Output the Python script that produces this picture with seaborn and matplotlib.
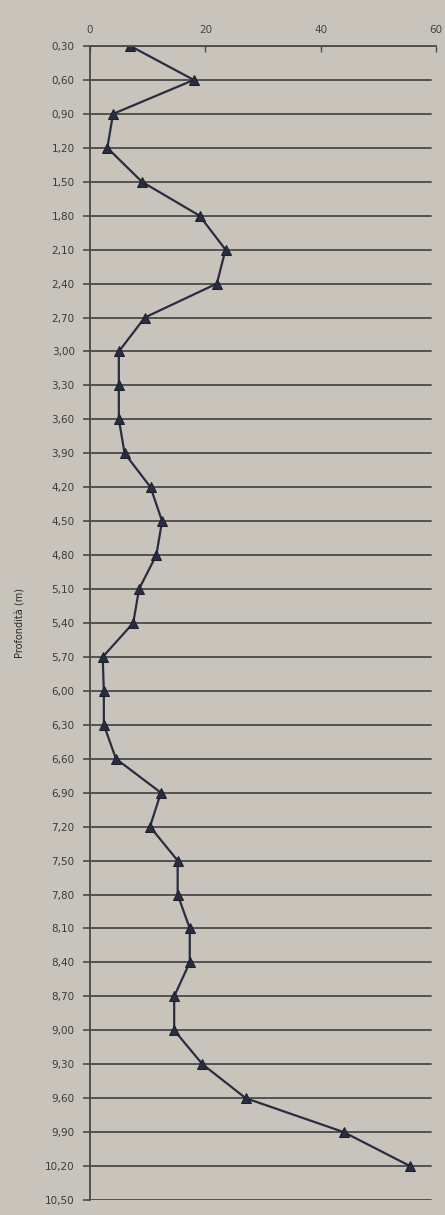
import numpy as np
import pandas as pd
import matplotlib
matplotlib.use("Agg")
import matplotlib.pyplot as plt
import seaborn as sns

# profondità (m) e valori
depths = [0.30, 0.60, 0.90, 1.20, 1.50, 1.80, 2.10, 2.40, 2.70, 3.00,
          3.30, 3.60, 3.90, 4.20, 4.50, 4.80, 5.10, 5.40, 5.70, 6.00,
          6.30, 6.60, 6.90, 7.20, 7.50, 7.80, 8.10, 8.40, 8.70, 9.00,
          9.30, 9.60, 9.90, 10.20]
values = [7.0, 18.0, 4.0, 3.0, 9.0, 19.0, 23.5, 22.0, 9.5, 5.0,
          5.0, 5.0, 6.0, 10.5, 12.5, 11.5, 8.5, 7.5, 2.2, 2.4,
          2.4, 4.5, 12.3, 10.4, 15.2, 15.2, 17.3, 17.3, 14.6, 14.6,
          19.5, 27.0, 44.0, 55.5]
tick_depths = [round(0.3 * i, 2) for i in range(1, 36)]
x_ticks = [0, 20, 40, 60]

data = pd.DataFrame({"depth": depths, "value": values})

sns.set_theme(style="white")
plt.rcParams["font.family"] = ["DejaVu Sans"]

bg = "#c8c4bc"
ink = "#4a4a4a"

fig = plt.figure(figsize=(4.45, 12.15), dpi=100, facecolor=bg)
ax = fig.add_axes([90 / 445, 1 - 1200 / 1215, (436 - 90) / 445, (1200 - 46) / 1215])
ax.set_facecolor(bg)

sns.lineplot(data=data, x="value", y="depth", sort=False, estimator=None,
             color="#2a2d40", linewidth=1.6, marker="^", markersize=7,
             markeredgecolor="#1e2030", ax=ax)

ax.set_xlim(0, 60)
ax.set_ylim(10.50, 0.30)
ax.set_yticks(tick_depths)
ax.set_yticklabels([f"{d:.2f}".replace(".", ",") for d in tick_depths],
                   fontsize=7.5, color="#3a3a3a")
ax.set_xticks(x_ticks)
ax.set_xticklabels([str(t) for t in x_ticks], fontsize=7.5, color="#444444")
ax.xaxis.tick_top()
ax.tick_params(axis="y", length=5, width=1.2, color=ink, pad=6, left=True)
ax.tick_params(axis="x", length=4, width=1.0, color=ink, pad=8, top=True, direction="in")

for d in tick_depths:
    ax.axhline(d, xmax=0.985, color=ink, linewidth=1.3, zorder=0)

for side in ["right", "bottom"]:
    ax.spines[side].set_visible(False)
ax.spines["left"].set_color(ink)
ax.spines["left"].set_linewidth(1.3)
ax.spines["top"].set_color(ink)
ax.spines["top"].set_linewidth(1.3)

ax.set_xlabel("")
ax.set_ylabel("Profondità (m)", fontsize=7, color="#2a2a2a", labelpad=14)

fig.savefig("out.png", dpi=100, facecolor=bg)
